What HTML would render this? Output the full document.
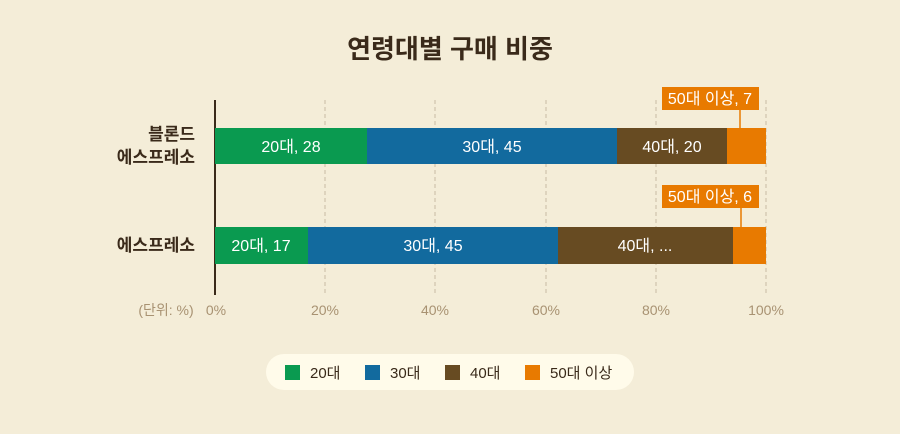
<!DOCTYPE html>
<html><head><meta charset="utf-8"><style>
body{margin:0;background:#f4edd8;}
svg{display:block;font-family:"Liberation Sans","Noto Sans CJK KR",sans-serif;}
</style></head><body>
<svg width="900" height="434" viewBox="0 0 900 434">
<rect width="900" height="434" fill="#f4edd8"/>
<text x="450" y="58" text-anchor="middle" font-size="26" font-weight="bold" fill="#3a2a1a">연령대별 구매 비중</text>
<g stroke="#c9bca3" stroke-dasharray="4,3" stroke-width="1">
<line x1="325" y1="100" x2="325" y2="295"/><line x1="435" y1="100" x2="435" y2="295"/>
<line x1="546" y1="100" x2="546" y2="295"/><line x1="656" y1="100" x2="656" y2="295"/>
<line x1="766" y1="100" x2="766" y2="295"/>
</g>
<line x1="215" y1="100" x2="215" y2="295" stroke="#3a2a1a" stroke-width="2"/>
<g font-size="16" fill="#fff" text-anchor="middle">
<rect x="215" y="128" width="152" height="36" fill="#0a9a50"/>
<rect x="367" y="128" width="250" height="36" fill="#126a9e"/>
<rect x="617" y="128" width="110" height="36" fill="#674b22"/>
<rect x="727" y="128" width="39" height="36" fill="#e87a00"/>
<text x="291" y="152">20대, 28</text><text x="492" y="152">30대, 45</text><text x="672" y="152">40대, 20</text>
<rect x="215" y="227" width="93" height="37" fill="#0a9a50"/>
<rect x="308" y="227" width="250" height="37" fill="#126a9e"/>
<rect x="558" y="227" width="175" height="37" fill="#674b22"/>
<rect x="733" y="227" width="33" height="37" fill="#e87a00"/>
<text x="261" y="251">20대, 17</text><text x="433" y="251">30대, 45</text><text x="645" y="251">40대, ...</text>
<line x1="740" y1="110" x2="740" y2="128" stroke="#e87a00" stroke-width="1.5"/>
<rect x="662" y="87" width="97" height="23" fill="#e87a00"/>
<text x="710" y="104">50대 이상, 7</text>
<line x1="741" y1="208" x2="741" y2="227" stroke="#e87a00" stroke-width="1.5"/>
<rect x="662" y="185" width="97" height="23" fill="#e87a00"/>
<text x="710" y="202">50대 이상, 6</text>
</g>
<g font-size="17" font-weight="bold" fill="#3a2a1a" text-anchor="end">
<text x="195" y="140">블론드</text><text x="195" y="163">에스프레소</text>
<text x="195" y="251">에스프레소</text>
</g>
<g font-size="14" fill="#a89272" text-anchor="middle">
<text x="166" y="315">(단위: %)</text>
<text x="216" y="315">0%</text><text x="325" y="315">20%</text><text x="435" y="315">40%</text>
<text x="546" y="315">60%</text><text x="656" y="315">80%</text><text x="766" y="315">100%</text>
</g>
<rect x="266" y="354" width="368" height="36" rx="18" fill="#fffbea"/>
<g font-size="15" fill="#3a2a1a">
<rect x="285" y="365" width="15" height="15" fill="#0a9a50"/><text x="310" y="378">20대</text>
<rect x="365" y="365" width="15" height="15" fill="#126a9e"/><text x="390" y="378">30대</text>
<rect x="445" y="365" width="15" height="15" fill="#674b22"/><text x="470" y="378">40대</text>
<rect x="525" y="365" width="15" height="15" fill="#e87a00"/><text x="550" y="378">50대 이상</text>
</g>
</svg>
</body></html>
